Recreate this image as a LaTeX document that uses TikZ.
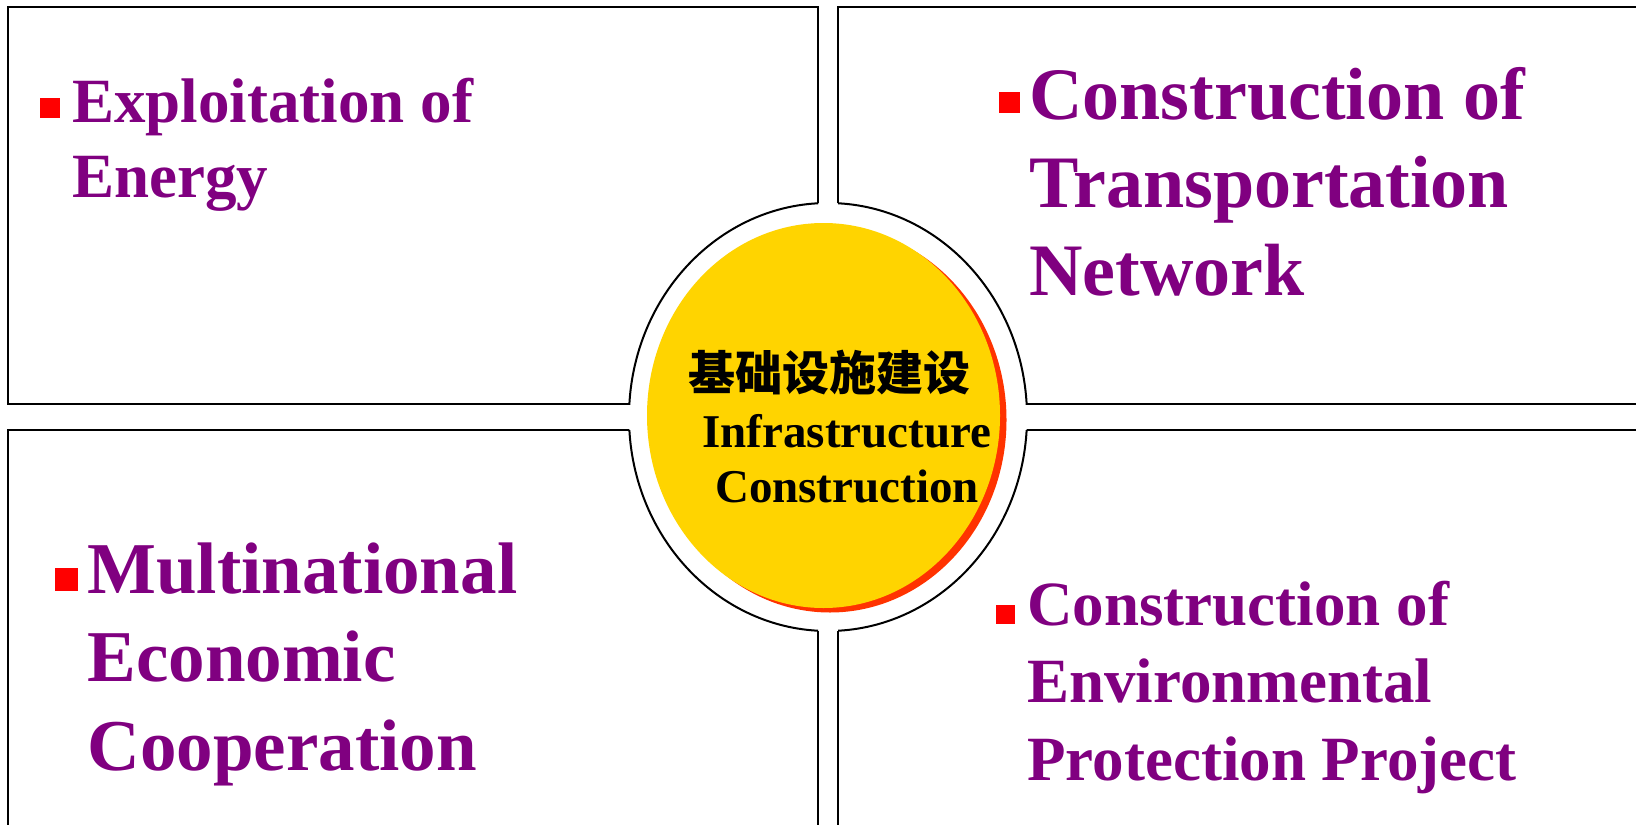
\documentclass[tikz,border=0pt]{standalone}
\usepackage{fontspec}
\setmainfont{Liberation Serif}
\newfontfamily\cjk{Noto Sans CJK SC}
\definecolor{itempurple}{HTML}{800080}
\definecolor{hubyellow}{HTML}{FFD400}
\definecolor{hubred}{HTML}{FF3300}
\tikzset{
    panel/.style={line width=1.4pt},
    rim/.style={line width=1pt},
    sq/.style={fill=red, inner sep=0pt, minimum size=#1},
    item/.style n args={2}{anchor=base west, align=left, inner sep=0pt, text=itempurple,
        font=\fontsize{#1}{#2}\selectfont\bfseries},
}

\begin{document}
\begin{tikzpicture}[x=0.5pt,y=-0.5pt]
\useasboundingbox (0,0) rectangle (1636,824);
\clip (0,0) rectangle (1636,824);
\coordinate (hub) at (828,417);
    \foreach \xa/\ya/\xb/\yb in {8/7/818/404, 838/7/1700/404, 8/430/818/900, 838/430/1700/900}{
        \draw[panel] (\xa,\ya) rectangle (\xb,\yb);
    }
    \fill[white] (hub) ellipse [x radius=199, y radius=214];
    \foreach \xa/\ya/\xb/\yb in {8/7/818/404, 838/7/1700/404, 8/430/818/900, 838/430/1700/900}{
        \begin{scope}
        \clip (\xa,\ya) rectangle (\xb,\yb);
        \draw[rim] (hub) ellipse [x radius=199, y radius=214];
        \end{scope}
    }
    \fill[hubred] (830,420) ellipse [x radius=176.5, y radius=192.5];
    \fill[hubyellow] (823.5,415.5) ellipse [x radius=176.5, y radius=192.5];
    \node[font=\fontsize{23.5}{27.5}\selectfont\cjk\bfseries, inner sep=0pt] (hubcn) at (829.5,373) {基础设施建设};
    \node[font=\fontsize{23.5}{27.5}\selectfont\bfseries, align=center, anchor=base, inner sep=0pt] (huben) at (847,502) {Infrastructure\\Construction};

    % last-line baselines
    \node[sq=10pt] (bEnergy) at (49.5,108) {};
    \node[item={31.5}{37.5}] (energy) at (72,197) {Exploitation of\\Energy};
    \node[sq=10.5pt] (bTransport) at (1009,102.5) {};
    \node[item={37}{44}] (transport) at (1029,295) {Construction of\\Transportation\\Network};
    \node[sq=11.5pt] (bEconomy) at (66.5,579.5) {};
    \node[item={36.5}{44.25}] (economy) at (87,770) {Multinational\\Economic\\Cooperation};
    \node[sq=9.5pt] (bEnviron) at (1005,614.5) {};
    \node[item={31.5}{38.75}] (environ) at (1027,780) {Construction of\\Environmental\\Protection Project};
\end{tikzpicture}
\end{document}
